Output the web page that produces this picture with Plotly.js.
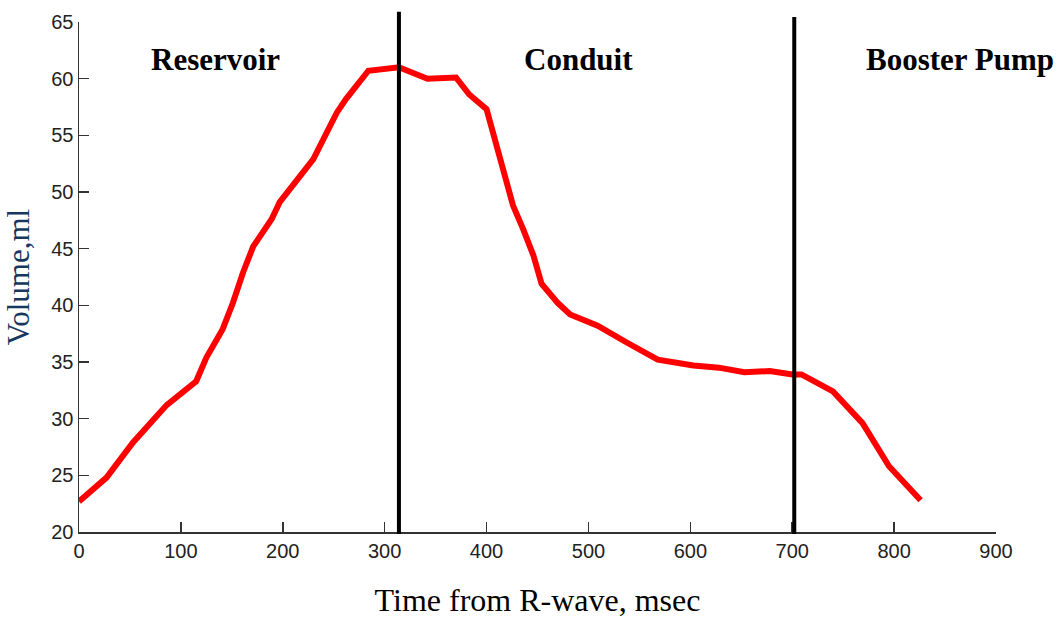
<!DOCTYPE html>
<html>
<head>
<meta charset="utf-8">
<script src="https://cdn.plot.ly/plotly-3.0.1.min.js"></script>
<style>
  html, body { margin: 0; padding: 0; background: #ffffff; }
  #chart { width: 1060px; height: 618px; }
</style>
</head>
<body>
<div id="chart"></div>
<script>
// Time from R-wave (msec) and left-atrial volume (ml)
const timeMs = [0, 27, 53, 86, 115, 125, 141, 151, 161, 171, 189, 197, 230, 253, 262, 284, 314,
                342, 370, 383, 400, 406, 416, 426, 436, 446, 454, 470, 482, 509, 538, 568, 603,
                628, 653, 678, 700, 709, 740, 752, 769, 795, 826];
const volumeMl = [22.7, 24.8, 27.9, 31.2, 33.3, 35.4, 37.9, 40.2, 42.9, 45.2, 47.6, 49.1, 52.9, 57.0, 58.2, 60.7, 61.0,
                  60.0, 60.1, 58.6, 57.3, 55.3, 52.3, 48.8, 46.7, 44.4, 41.9, 40.2, 39.2, 38.2, 36.7, 35.2, 34.7,
                  34.5, 34.1, 34.2, 33.9, 33.9, 32.4, 31.2, 29.6, 25.8, 22.8];

// Phase boundaries (msec)
const phaseBoundaryTimes = [314, 702];

// Phase labels and their centre times (msec)
const phaseLabels = ["Reservoir", "Conduit", "Booster Pump"];
const phaseLabelTimes = [134, 490, 865];
const phaseLabelVolume = 61.7;

const xTicks = [0, 100, 200, 300, 400, 500, 600, 700, 800, 900];
const yTicks = [20, 25, 30, 35, 40, 45, 50, 55, 60, 65];

const traces = [{
  x: timeMs,
  y: volumeMl,
  type: 'scatter',
  mode: 'lines',
  line: { color: '#ff0000', width: 6 },
  hoverinfo: 'x+y',
  showlegend: false
}];

const lineTops = [1.02, 1.01];
const shapes = phaseBoundaryTimes.map((t, i) => ({
  type: 'line',
  xref: 'x', yref: 'paper',
  x0: t, x1: t,
  y0: -0.004, y1: lineTops[i],
  line: { color: '#000000', width: 4 },
  layer: 'above'
}));

const annotations = phaseLabels.map((label, i) => ({
  x: phaseLabelTimes[i],
  y: phaseLabelVolume,
  xref: 'x', yref: 'y',
  text: '<b>' + label + '</b>',
  showarrow: false,
  xanchor: 'center', yanchor: 'middle',
  font: { family: '"Times New Roman", "Liberation Serif", serif', size: 31, color: '#000000' }
}));

const layout = {
  width: 1060,
  height: 618,
  paper_bgcolor: '#ffffff',
  plot_bgcolor: '#ffffff',
  margin: { l: 79, r: 64, t: 22, b: 86 },
  showlegend: false,
  xaxis: {
    range: [0, 900],
    tickvals: xTicks,
    ticktext: xTicks.map(String),
    ticks: 'inside',
    ticklen: 10,
    tickwidth: 1.5,
    tickcolor: '#333333',
    showline: true,
    linecolor: '#333333',
    linewidth: 1.5,
    showgrid: false,
    zeroline: false,
    tickfont: { family: '"Liberation Sans", Arial, sans-serif', size: 20, color: '#222222' },
    title: {
      text: 'Time from R-wave, msec',
      font: { family: '"Times New Roman", "Liberation Serif", serif', size: 32, color: '#000000' },
      standoff: 30
    }
  },
  yaxis: {
    range: [20, 65],
    tickvals: yTicks,
    ticktext: yTicks.map(String),
    ticks: 'inside',
    ticklen: 10,
    tickwidth: 1.5,
    tickcolor: '#333333',
    showline: true,
    linecolor: '#333333',
    linewidth: 1.5,
    showgrid: false,
    zeroline: false,
    tickfont: { family: '"Liberation Sans", Arial, sans-serif', size: 20, color: '#222222' },
    title: {
      text: 'Volume,ml',
      font: { family: '"Times New Roman", "Liberation Serif", serif', size: 31, color: '#17375e' },
      standoff: 12
    }
  },
  shapes: shapes,
  annotations: annotations
};

Plotly.newPlot('chart', traces, layout, { displayModeBar: false, staticPlot: true });
</script>
</body>
</html>
